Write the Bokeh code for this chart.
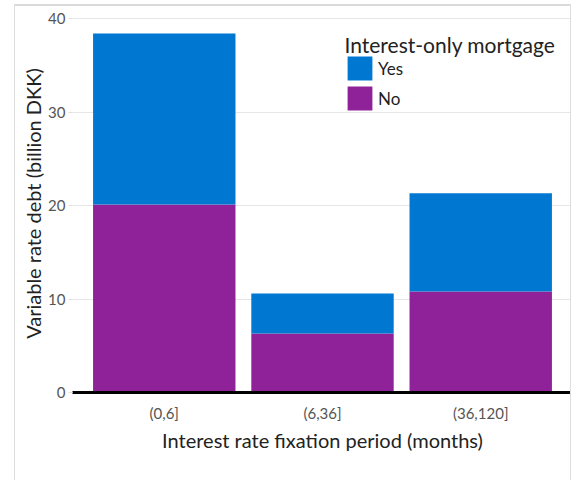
from bokeh.plotting import figure
from bokeh.models import FactorRange, Range1d, Legend, LegendItem, ColumnDataSource, SingleIntervalTicker, Label
from bokeh.embed import file_html
from bokeh.resources import INLINE

categories = ["(0,6]", "(6,36]", "(36,120]"]
no_values = [20.1, 6.3, 10.8]
yes_values = [18.3, 4.3, 10.5]
legend_title = "Interest-only mortgage"

FONT = "Lato"
BLUE = "#0078D2"
PURPLE = "#8F2299"

src = ColumnDataSource(dict(cat=categories, No=no_values, Yes=yes_values))

p = figure(x_range=FactorRange(factors=categories, range_padding=0.08, range_padding_units="absolute"),
           y_range=Range1d(0, 40.43),
           width=557, height=476, output_backend="svg", toolbar_location=None,
           min_border_left=57, min_border_right=0, min_border_top=8, min_border_bottom=90)
p.styles = {"border-top": "2px solid #DADADA", "border-left": "1px solid #DDDDDD",
            "border-right": "1px solid #DDDDDD", "margin-left": "14px", "margin-top": "4px"}

r = p.vbar_stack(["No", "Yes"], x="cat", width=0.9, source=src, color=[PURPLE, BLUE], line_color=None)

legend = Legend(items=[LegendItem(label="Yes", renderers=[r[1]]), LegendItem(label="No", renderers=[r[0]])],
                location=(272, 279),
                label_text_font=FONT, label_text_font_size="17px", label_text_color="#222222",
                glyph_width=31, glyph_height=30, spacing=0, label_standoff=3,
                padding=0, margin=0, border_line_color=None, background_fill_alpha=0)
p.add_layout(legend)

title_label = Label(x=272, y=348, x_units="screen", y_units="screen", text=legend_title,
                    text_font=FONT, text_font_size="21px", text_color="#222222",
                    text_baseline="alphabetic", text_align="left")
p.add_layout(title_label)

p.outline_line_color = None
p.xgrid.grid_line_color = None
p.ygrid.grid_line_color = "#E6E6E6"
p.ygrid.grid_line_width = 1
p.yaxis.ticker = SingleIntervalTicker(interval=10)

p.yaxis.axis_line_color = None
p.yaxis.major_tick_line_color = "#E0E0E0"
p.yaxis.major_tick_out = 4
p.yaxis.major_tick_in = 0
p.yaxis.minor_tick_line_color = None
p.yaxis.major_label_text_font = FONT
p.yaxis.major_label_text_font_size = "15px"
p.yaxis.major_label_text_color = "#555555"
p.yaxis.major_label_standoff = 3
p.yaxis.axis_label = "Variable rate debt (billion DKK)"
p.yaxis.axis_label_text_font = FONT
p.yaxis.axis_label_text_font_size = "20px"
p.yaxis.axis_label_text_font_style = "normal"
p.yaxis.axis_label_text_color = "#222222"
p.yaxis.axis_label_standoff = 0

p.xaxis.axis_line_color = "black"
p.xaxis.axis_line_width = 3
p.xaxis.major_tick_line_color = None
p.xaxis.minor_tick_line_color = None
p.xaxis.major_label_text_font = FONT
p.xaxis.major_label_text_font_size = "15px"
p.xaxis.major_label_text_color = "#555555"
p.xaxis.major_label_standoff = 5
p.xaxis.axis_label = "Interest rate fixation period (months)"
p.xaxis.axis_label_text_font = FONT
p.xaxis.axis_label_text_font_size = "20px"
p.xaxis.axis_label_text_font_style = "normal"
p.xaxis.axis_label_text_color = "#222222"
p.xaxis.axis_label_standoff = 3

open("out.html", "w").write(file_html(p, INLINE))
